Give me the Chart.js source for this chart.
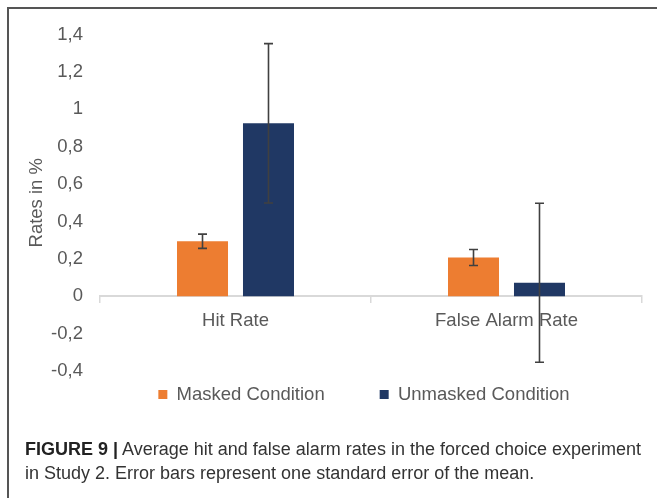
<!DOCTYPE html>
<html>
<head>
<meta charset="utf-8">
<script src="https://cdn.jsdelivr.net/npm/chart.js@4/dist/chart.umd.min.js"></script>
<style>
html,body{margin:0;padding:0;width:657px;height:498px;overflow:hidden;background:#fff;}
#frame{position:absolute;left:7px;top:7px;width:720px;height:620px;border-top:2px solid #555;border-left:2px solid #555;}
#c{position:absolute;left:0;top:0;}
#cap{position:absolute;left:25px;top:437px;width:640px;font-family:'Liberation Sans',Arial,sans-serif;font-size:18px;line-height:24px;color:#333;white-space:nowrap;}
#cap b{color:#222;}
</style>
</head>
<body>
<div id="frame"></div>
<canvas id="c" width="657" height="498"></canvas>
<div id="cap"><b>FIGURE 9 |</b> Average hit and false alarm rates in the forced choice experiment<br>in Study 2. Error bars represent one standard error of the mean.</div>
<script>
const categories = ['Hit Rate', 'False Alarm Rate'];
const seriesNames = ['Masked Condition', 'Unmasked Condition'];
const maskedValues = [0.294, 0.207];
const unmaskedValues = [0.925, 0.072];
const maskedErrors = [0.038, 0.043];
const unmaskedErrors = [0.426, 0.425];
const yTicks = [-0.4, -0.2, 0, 0.2, 0.4, 0.6, 0.8, 1, 1.2, 1.4];

const FONT = "'Liberation Sans', Arial, sans-serif";
const TXT = '#595959';
const FS = 18.5;

const errorBars = {
  id: 'errorBars',
  afterDatasetsDraw(chart) {
    const ctx = chart.ctx, y = chart.scales.y;
    chart.data.datasets.forEach((ds, i) => {
      const meta = chart.getDatasetMeta(i);
      meta.data.forEach((bar, j) => {
        const v = ds.data[j], e = ds.errors[j];
        const yt = y.getPixelForValue(v + e), yb = y.getPixelForValue(v - e);
        ctx.save();
        ctx.strokeStyle = '#404040';
        ctx.lineWidth = 1.6;
        ctx.beginPath();
        ctx.moveTo(bar.x, yt); ctx.lineTo(bar.x, yb);
        ctx.moveTo(bar.x - 4.5, yt); ctx.lineTo(bar.x + 4.5, yt);
        ctx.moveTo(bar.x - 4.5, yb); ctx.lineTo(bar.x + 4.5, yb);
        ctx.stroke();
        ctx.restore();
      });
    });
  }
};

const legendPlace = {
  id: 'legendPlace',
  afterLayout(chart) {
    const lg = chart.legend;
    if (!lg) return;
    const P = lg.options.labels.padding;
    const dy = 396.3 - (lg.top + P + FS * 1.2 / 2);
    const dx = 364 - (lg.left + lg.right) / 2;
    lg.top += dy; lg.bottom += dy; lg.left += dx; lg.right += dx;
  }
};

new Chart(document.getElementById('c'), {
  type: 'bar',
  data: {
    labels: categories,
    datasets: [
      { label: seriesNames[0], data: maskedValues, errors: maskedErrors, backgroundColor: '#ED7D31', borderWidth: 0 },
      { label: seriesNames[1], data: unmaskedValues, errors: unmaskedErrors, backgroundColor: '#203864', borderWidth: 0 }
    ]
  },
  options: {
    responsive: false,
    animation: false,
    devicePixelRatio: 1,
    categoryPercentage: 0.487,
    barPercentage: 0.773,
    layout: { padding: { top: 34.5, bottom: 43.5, left: 20, right: 15 } },
    scales: {
      x: {
        type: 'category',
        position: { y: 0 },
        offset: true,
        grid: { display: true, drawOnChartArea: false, drawTicks: true, tickLength: 6, color: '#D9D9D9', lineWidth: 1.5, offset: true },
        border: { display: true, color: '#D9D9D9', width: 2 },
        ticks: { color: TXT, font: { family: FONT, size: FS }, padding: 8, maxRotation: 0 }
      },
      y: {
        min: -0.4, max: 1.4,
        afterBuildTicks: s => { s.ticks = yTicks.map(v => ({ value: v })); },
        afterFit: s => { s.width = 80; },
        grid: { display: false, drawTicks: false },
        border: { display: false },
        ticks: {
          color: TXT, font: { family: FONT, size: FS }, padding: 17,
          callback: v => String(Math.round(v * 10) / 10).replace('.', ',')
        },
        title: { display: true, text: 'Rates in %', color: TXT, font: { family: FONT, size: FS }, padding: { top: 6, bottom: 0 } }
      }
    },
    plugins: {
      legend: {
        position: 'bottom',
        labels: { boxWidth: 9, boxHeight: 9, padding: 55, color: TXT, font: { family: FONT, size: FS } }
      },
      tooltip: { enabled: false }
    }
  },
  plugins: [errorBars, legendPlace]
});
</script>
</body>
</html>
